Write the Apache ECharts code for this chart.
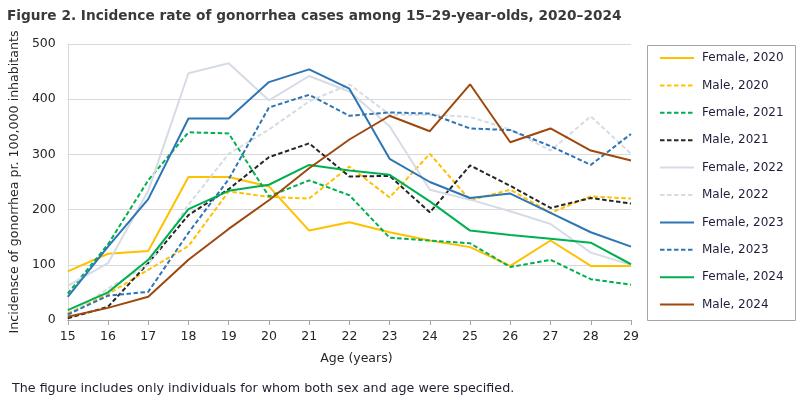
<!DOCTYPE html>
<html>
<head>
<meta charset="utf-8">
<script src="https://cdn.jsdelivr.net/npm/echarts@6/dist/echarts.min.js"></script>
<style>
html,body{margin:0;padding:0;background:#fff;}
#chart{width:800px;height:404px;}
</style>
</head>
<body>
<div id="chart"></div>
<script>
const ages = ['15','16','17','18','19','20','21','22','23','24','25','26','27','28','29'];
const yTicks = [0,100,200,300,400,500];

const female2020 = [88,120,125,259,259,242,162,177,159,144,132,98,144,98,98];
const male2020   = [12,47,91,134,233,223,220,278,222,301,217,236,194,224,220];
const female2021 = [48,137,253,340,338,224,253,226,149,144,139,96,109,74,64];
const male2021   = [3,24,103,190,237,295,320,260,261,195,280,243,203,221,211];
const female2022 = [62,103,234,447,465,398,442,414,351,236,218,197,174,122,100];
const male2022   = [8,57,100,209,301,345,396,427,372,372,368,345,307,369,301];
const female2023 = [42,133,219,365,365,431,454,419,292,250,221,229,194,159,133];
const male2023   = [10,44,51,158,255,385,408,370,376,374,347,344,315,281,337];
const female2024 = [18,50,109,201,234,245,281,271,263,215,162,154,147,140,101];
const male2024   = [6,22,42,109,165,217,275,327,370,342,427,322,347,307,289];

const seriesDefs = [
  ['Female, 2020', female2020, '#FFC000', 'solid'],
  ['Male, 2020', male2020, '#FFC000', 'dashed'],
  ['Female, 2021', female2021, '#00B050', 'dashed'],
  ['Male, 2021', male2021, '#262626', 'dashed'],
  ['Female, 2022', female2022, '#D6DCE5', 'solid'],
  ['Male, 2022', male2022, '#D6DCE5', 'dashed'],
  ['Female, 2023', female2023, '#2E75B6', 'solid'],
  ['Male, 2023', male2023, '#2E75B6', 'dashed'],
  ['Female, 2024', female2024, '#00B050', 'solid'],
  ['Male, 2024', male2024, '#9E480E', 'solid']
];

const FONT = 'DejaVu Sans';
const chart = echarts.init(document.getElementById('chart'));
chart.setOption({
  animation: false,
  backgroundColor: '#fff',
  title: {
    text: 'Figure 2. Incidence rate of gonorrhea cases among 15\u201329-year-olds, 2020\u20132024',
    left: 2, top: 4,
    textStyle: {fontFamily: FONT, fontWeight: 'bold', fontSize: 13.7, color: '#3a3a3a'}
  },
  graphic: [
    {type: 'rect', left: 645, top: 43, shape: {width: 148, height: 275},
     style: {fill: 'none', stroke: '#a6a6a6', lineWidth: 1}},
    {type: 'text', left: 12, top: 382,
     style: {text: 'The figure includes only individuals for whom both sex and age were specified.',
             font: '12.7px "DejaVu Sans"', fill: '#1e1e32'}}
  ],
  legend: {
    orient: 'vertical',
    left: 659, top: 52,
    itemWidth: 34, itemHeight: 14, itemGap: 15.4,
    padding: 0,
    itemStyle: {opacity: 0},
    textStyle: {fontFamily: FONT, fontSize: 12, color: '#1e1e3c', padding: [0,0,0,3]},
    data: seriesDefs.map(d => d[0])
  },
  grid: {left: 67, right: 169, top: 44, bottom: 84},
  xAxis: {
    type: 'category', data: ages, boundaryGap: false,
    name: 'Age (years)', nameLocation: 'middle', nameGap: 32,
    nameTextStyle: {fontFamily: FONT, fontSize: 12.5, color: '#262626', padding: [0,0,0,14]},
    axisLine: {lineStyle: {color: '#a6a6a6'}},
    axisTick: {length: 5, lineStyle: {color: '#a6a6a6'}, alignWithLabel: true},
    axisLabel: {fontFamily: FONT, fontSize: 12.5, color: '#262626', margin: 10}
  },
  yAxis: {
    type: 'value', min: 0, max: 500, interval: 100,
    name: 'Incidensce of gonorrhea pr. 100,000 inhabitants',
    nameLocation: 'middle', nameGap: 46, nameRotate: 90,
    nameTextStyle: {fontFamily: FONT, fontSize: 12.6, color: '#262626'},
    axisLine: {show: true, lineStyle: {color: '#d9d9d9'}},
    axisTick: {show: false},
    splitLine: {lineStyle: {color: '#d9d9d9'}},
    axisLabel: {fontFamily: FONT, fontSize: 12.5, color: '#262626', margin: 12,
      formatter: v => yTicks.includes(v) ? String(v) : ''}
  },
  series: seriesDefs.map(d => ({
    name: d[0], type: 'line', data: d[1], symbol: 'none', z: 2,
    lineStyle: {color: d[2], width: 2, type: d[3] === 'dashed' ? [4.5, 2.5] : 'solid'},
    itemStyle: {color: d[2]}
  }))
});
</script>
</body>
</html>
